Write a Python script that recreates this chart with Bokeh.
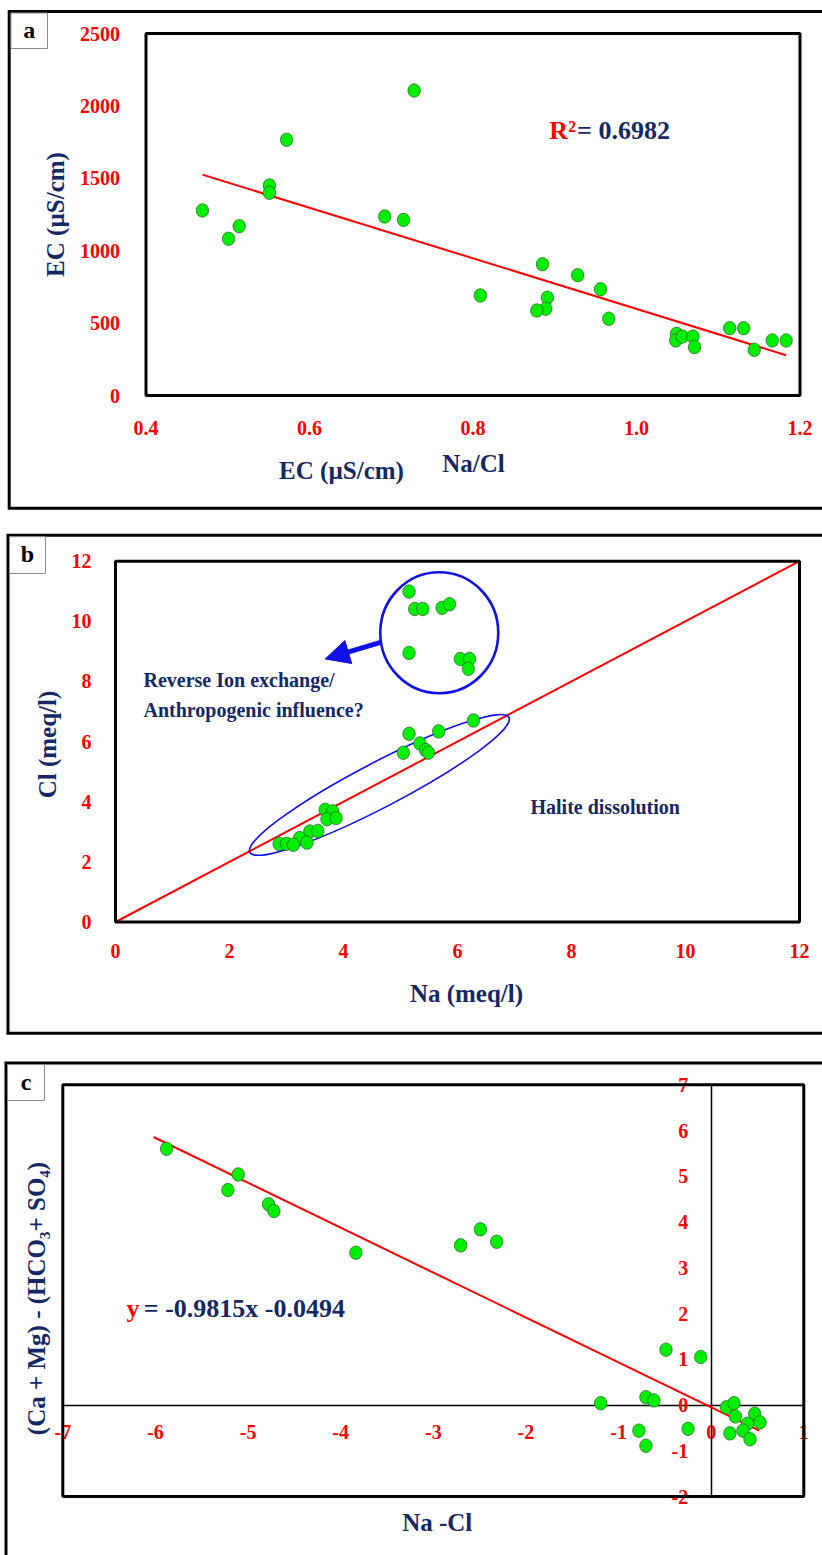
import numpy as np
from bokeh.plotting import figure
from bokeh.models import Range1d, FixedTicker, Label, Arrow, NormalHead, PrintfTickFormatter
from bokeh.layouts import column
from bokeh.embed import file_html
from bokeh.resources import INLINE
from bokeh.core.properties import value

# ---------------- data ----------------
# panel a : Na/Cl vs EC
a_nacl = [0.469, 0.501, 0.514, 0.551, 0.551, 0.572, 0.692, 0.715, 0.728, 0.809,
          0.885, 0.928, 0.956, 0.891, 0.889, 0.878, 0.966, 1.049, 1.048, 1.056,
          1.069, 1.071, 1.114, 1.131, 1.144, 1.166, 1.183]
a_ec = [1278, 1082, 1169, 1450, 1400, 1766, 1236, 1213, 2106, 691,
        907, 831, 734, 675, 599, 587, 530, 426, 380, 407,
        407, 334, 465, 465, 316, 380, 380]
a_lims = (0.4, 1.2, 0, 2500)
a_xticks = [0.4, 0.6, 0.8, 1.0, 1.2]
a_yticks = [0, 500, 1000, 1500, 2000, 2500]
a_r2 = "0.6982"

# panel b : Na vs Cl
b_na = [5.15, 5.25, 5.39, 5.73, 5.86, 5.15, 6.05, 6.21, 6.19, 6.28,
        5.15, 5.67, 5.34, 5.05, 5.44, 5.49, 3.68, 3.81, 3.71, 3.87,
        3.41, 3.55, 3.23, 3.36, 2.87, 3.00, 3.12]
b_cl = [10.99, 10.41, 10.41, 10.45, 10.57, 8.95, 8.75, 8.75, 8.42, 6.70,
        6.26, 6.34, 5.94, 5.63, 5.72, 5.63, 3.73, 3.68, 3.42, 3.46,
        3.01, 3.03, 2.79, 2.64, 2.60, 2.60, 2.57]
b_lims = (0, 12, 0, 12)
b_ticks = [0, 2, 4, 6, 8, 10, 12]
b_ref = [0, 12]

# panel c : Na-Cl vs (Ca+Mg)-(HCO3+SO4)
c_nacl = [-5.88, -5.106, -5.218, -4.779, -4.721, -3.836, -2.705, -2.492, -2.316,
          -0.488, -0.113, -1.193, -0.704, -0.618, -0.78, -0.704, -0.25,
          0.164, 0.246, 0.261, 0.203, 0.47, 0.527, 0.391, 0.343, 0.419]
c_diff = [5.60, 5.04, 4.70, 4.39, 4.24, 3.33, 3.49, 3.84, 3.57,
          1.21, 1.05, 0.04, 0.17, 0.10, -0.56, -0.89, -0.52,
          -0.05, 0.04, -0.25, -0.62, -0.19, -0.38, -0.41, -0.56, -0.75]
c_lims = (-7, 1, -2, 7)
c_slope = -0.9815
c_intercept = -0.0494
c_fit_range = [-6.02, 0.52]
c_xticks = [-7, -6, -5, -4, -3, -2, -1, 0, 1]
c_yticks = [-2, -1, 0, 1, 2, 3, 4, 5, 6, 7]

# ---------------- styles / layout (pixels) ----------------
FONT = "Liberation Serif"
RED = "#ff0000"
NAVY = "#142866"
GREEN = "#00ee00"
BLUE = "#1010e8"
TICK_SIZE = "20px"
TITLE_SIZE = "25px"
PAGE_W = 822


class Panel:
    """A figure whose frame is the whole canvas; the plot box is placed by pixels."""

    def __init__(self, top, height, box, lims):
        self.top = top
        self.h = height
        L, R, T, B = box
        x0, x1, y0, y1 = lims
        self.L, self.R, self.T, self.B = L, R, T - top, B - top
        self.x0, self.x1, self.y0, self.y1 = x0, x1, y0, y1
        self.sx = (R - L) / (x1 - x0)
        self.sy = (self.B - self.T) / (y1 - y0)
        p = figure(width=PAGE_W, height=height,
                   x_range=Range1d(self.fx(0), self.fx(PAGE_W)),
                   y_range=Range1d(self.fy(top + height), self.fy(top)),
                   output_backend="svg", toolbar_location=None,
                   min_border_left=0, min_border_right=0,
                   min_border_top=0, min_border_bottom=0)
        p.outline_line_color = None
        p.grid.visible = False
        p.background_fill_color = "white"
        p.border_fill_color = "white"
        self.p = p

    def fx(self, px):
        return self.x0 + (px - self.L) / self.sx

    def fy(self, py):  # page y
        return self.y0 + (self.B - (py - self.top)) / self.sy

    def box(self):
        self.p.quad(left=[self.x0], right=[self.x1], bottom=[self.y0], top=[self.y1],
                    fill_color=None, line_color="black", line_width=3)

    def outer(self, xl, yt, yb=None):
        xs = [self.fx(PAGE_W + 10), self.fx(xl), self.fx(xl)]
        ys = [self.fy(yt), self.fy(yt), self.fy(yb if yb is not None else self.top + self.h + 10)]
        if yb is not None:
            xs.append(self.fx(PAGE_W + 10))
            ys.append(self.fy(yb))
        self.p.line(xs, ys, line_color="black", line_width=3, line_join="miter")

    def tag(self, x0, y0, x1, y1, t):
        cx, cy = (x0 + x1) / 2, (y0 + y1) / 2
        self.p.rect(x=[self.fx(cx)], y=[self.fy(cy)], width=x1 - x0, height=y1 - y0,
                    width_units="screen", height_units="screen", fill_color="white",
                    line_color="#8a8a8a", line_width=1)
        self.p.text(x=[self.fx(cx)], y=[self.fy(cy - 1)], text=[t], text_font=value(FONT),
                    text_font_style="bold", text_font_size="24px", text_color="black",
                    text_align="center", text_baseline="middle")

    def title(self, cx, cy, t, angle=0):
        self.p.add_layout(Label(x=self.fx(cx), y=self.fy(cy), text=t, text_align="center",
                                text_baseline="middle", angle=angle, angle_units="deg",
                                text_font=FONT, text_font_style="bold",
                                text_font_size=TITLE_SIZE, text_color=NAVY))


def style_axis(ax, loc, bounds, ticks, standoff, line=None, fmt="%d"):
    ax.fixed_location = loc
    ax.bounds = bounds
    ax.ticker = FixedTicker(ticks=ticks)
    ax.formatter = PrintfTickFormatter(format=fmt)
    ax.major_label_text_font = FONT
    ax.major_label_text_font_style = "bold"
    ax.major_label_text_font_size = TICK_SIZE
    ax.major_label_text_color = RED
    ax.major_label_standoff = standoff
    ax.major_tick_in = 0
    ax.major_tick_out = 0
    ax.minor_tick_in = 0
    ax.minor_tick_out = 0
    if line is None:
        ax.axis_line_color = None
    else:
        ax.axis_line_color = "black"
        ax.axis_line_width = line
        ax.level = "underlay"


def dots(p, xs, ys):
    p.ellipse(x=xs, y=ys, width=12.5, height=13.5, width_units="screen", height_units="screen",
              fill_color=GREEN, line_color="#2f5f2f", line_width=0.7)


def txt(p, x, y, s, color, size):
    p.text(x=[x], y=[y], text=[s], text_font=value(FONT), text_font_style="bold",
           text_font_size=size, text_color=color, text_align="left", text_baseline="middle")


# ---------------- panel a ----------------
A = Panel(0, 522, (145.5, 799.5, 33, 395), a_lims)
pa = A.p
style_axis(pa.xaxis[0], 0, (0.4, 1.2), a_xticks, 25, fmt="%.1f")
style_axis(pa.yaxis[0], 0.4, (0, 2500), a_yticks, 26)
A.outer(8.7, 11, 507.7)
coef = np.polyfit(a_nacl, a_ec, 1)
fxa = np.array([min(a_nacl), max(a_nacl)])
pa.line(fxa, coef[0] * fxa + coef[1], line_color=RED, line_width=2)
A.box()
dots(pa, a_nacl, a_ec)
txt(pa, 0.8934, 1830, "R²", RED, "26px")
txt(pa, 0.9273, 1830, "= " + a_r2, NAVY, "26px")
A.title(55, 214, "EC (µS/cm)", 90)
A.title(473, 463, "Na/Cl")
A.title(341, 470, "EC (µS/cm)")
A.tag(10.5, 12.5, 47, 48, "a")

# ---------------- panel b ----------------
Bp = Panel(522, 526, (115, 799, 560.7, 921.5), b_lims)
pb = Bp.p
style_axis(pb.xaxis[0], 0, (0, 12), b_ticks, 22)
style_axis(pb.yaxis[0], 0, (0, 12), b_ticks, 24)
Bp.outer(7.5, 534.7, 1032.7)
pb.line(b_ref, b_ref, line_color=RED, line_width=2)
Bp.box()
pb.ellipse(x=[4.63], y=[4.56], width=292, height=45, angle=27.5, angle_units="deg",
           width_units="screen", height_units="screen", fill_color=None,
           line_color=BLUE, line_width=1.6)
pb.ellipse(x=[5.68], y=[9.62], width=118, height=121, width_units="screen",
           height_units="screen", fill_color=None, line_color=BLUE, line_width=2.6)
pb.add_layout(Arrow(end=NormalHead(size=24, fill_color=BLUE, line_color=BLUE),
                    x_start=4.65, y_start=9.30, x_end=3.68, y_end=8.75,
                    line_color=BLUE, line_width=5))
dots(pb, b_na, b_cl)
txt(pb, 0.491, 8.05, "Reverse Ion exchange/", NAVY, "20px")
txt(pb, 0.491, 7.05, "Anthropogenic influence?", NAVY, "20px")
txt(pb, 7.28, 3.84, "Halite dissolution", NAVY, "20px")
Bp.title(47, 744, "Cl (meq/l)", 90)
Bp.title(466, 993, "Na (meq/l)")
Bp.tag(9, 536.2, 45, 573, "b")

# ---------------- panel c ----------------
C = Panel(1048, 507, (62.3, 803.3, 1084.3, 1496), c_lims)
pc = C.p
style_axis(pc.xaxis[0], 0, (-7, 1), c_xticks, 20, line=1.5)
style_axis(pc.yaxis[0], 0, (-2, 7), c_yticks, 23, line=1.5)
C.outer(5.5, 1062.5)
cx = np.array(c_fit_range)
pc.line(cx, c_slope * cx + c_intercept, line_color=RED, line_width=2)
C.box()
dots(pc, c_nacl, c_diff)
txt(pc, -6.312, 2.10, "y", RED, "26px")
txt(pc, -6.125, 2.10, f"= {c_slope}x {c_intercept}", NAVY, "26px")
C.title(36, 1298, "(Ca + Mg) - (HCO₃+ SO₄)", 90)
C.title(436.7, 1521.7, "Na -Cl")
C.tag(7, 1064, 44, 1100, "c")

layout = column(pa, pb, pc)
open("out.html", "w").write(file_html(layout, INLINE))
